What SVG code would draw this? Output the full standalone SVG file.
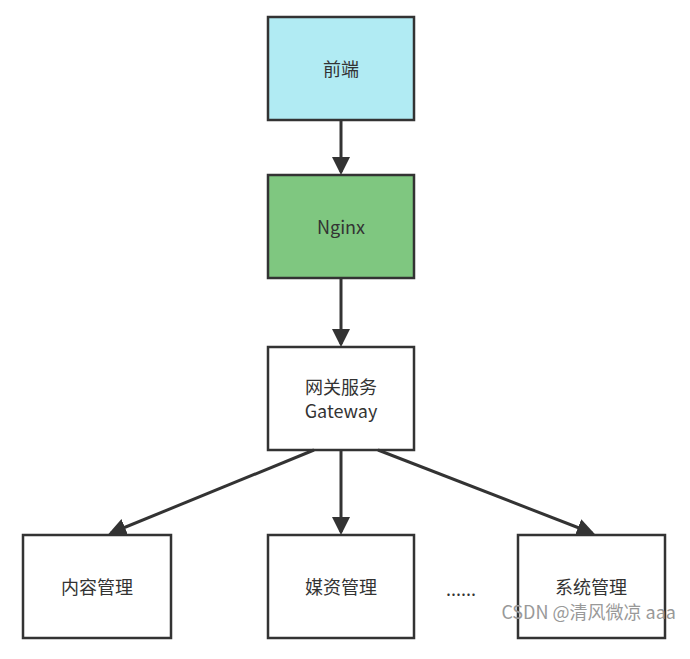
<svg xmlns="http://www.w3.org/2000/svg" width="690" height="659" viewBox="0 0 690 659">
<style>
.box{stroke:#333;stroke-width:2.5}
.t{font-family:"Noto Sans CJK SC","Liberation Sans",sans-serif;font-size:18px;fill:#333;text-anchor:middle;dominant-baseline:central}
.c{stroke:#333;stroke-width:3;fill:none;marker-end:url(#a)}
</style>
<defs>
<marker id="a" markerWidth="6" markerHeight="6" refX="5" refY="3" orient="auto" markerUnits="strokeWidth" viewBox="0 0 6 6">
<path d="M0,0 L6,3 L0,6 z" fill="#333"/>
</marker>
</defs>
<rect width="690" height="659" fill="#fff"/>
<g id="frontend"><rect class="box" x="268" y="17" width="146" height="103" fill="#b1ebf3"/><text class="t" x="341" y="68">前端</text></g>
<g id="nginx"><rect class="box" x="268" y="175" width="146" height="103" fill="#7fc780"/><text class="t" x="341" y="226">Nginx</text></g>
<g id="gateway"><rect class="box" x="268" y="347" width="146" height="103" fill="#fff"/><text class="t" x="341" y="386">网关服务</text><text class="t" x="341" y="410">Gateway</text></g>
<g id="content"><rect class="box" x="23" y="535" width="148" height="103" fill="#fff"/><text class="t" x="97" y="586">内容管理</text></g>
<g id="media"><rect class="box" x="268" y="535" width="146" height="103" fill="#fff"/><text class="t" x="341" y="586">媒资管理</text></g>
<g id="system"><rect class="box" x="518" y="535" width="147" height="103" fill="#fff"/><text class="t" x="591" y="586">系统管理</text></g>
<text class="t" x="461" y="588">......</text>
<g id="connectors">
<line class="c" x1="341" y1="120" x2="341" y2="172"/>
<line class="c" x1="341" y1="278" x2="341" y2="344"/>
<line class="c" x1="314" y1="450" x2="111" y2="533"/>
<line class="c" x1="341" y1="450" x2="341" y2="532"/>
<line class="c" x1="378" y1="450" x2="592" y2="533"/>
</g>
<text x="676" y="619" font-family="'Noto Sans CJK SC','Liberation Sans',sans-serif" font-size="18" fill="#999" text-anchor="end">CSDN @清风微凉 aaa</text>
</svg>
